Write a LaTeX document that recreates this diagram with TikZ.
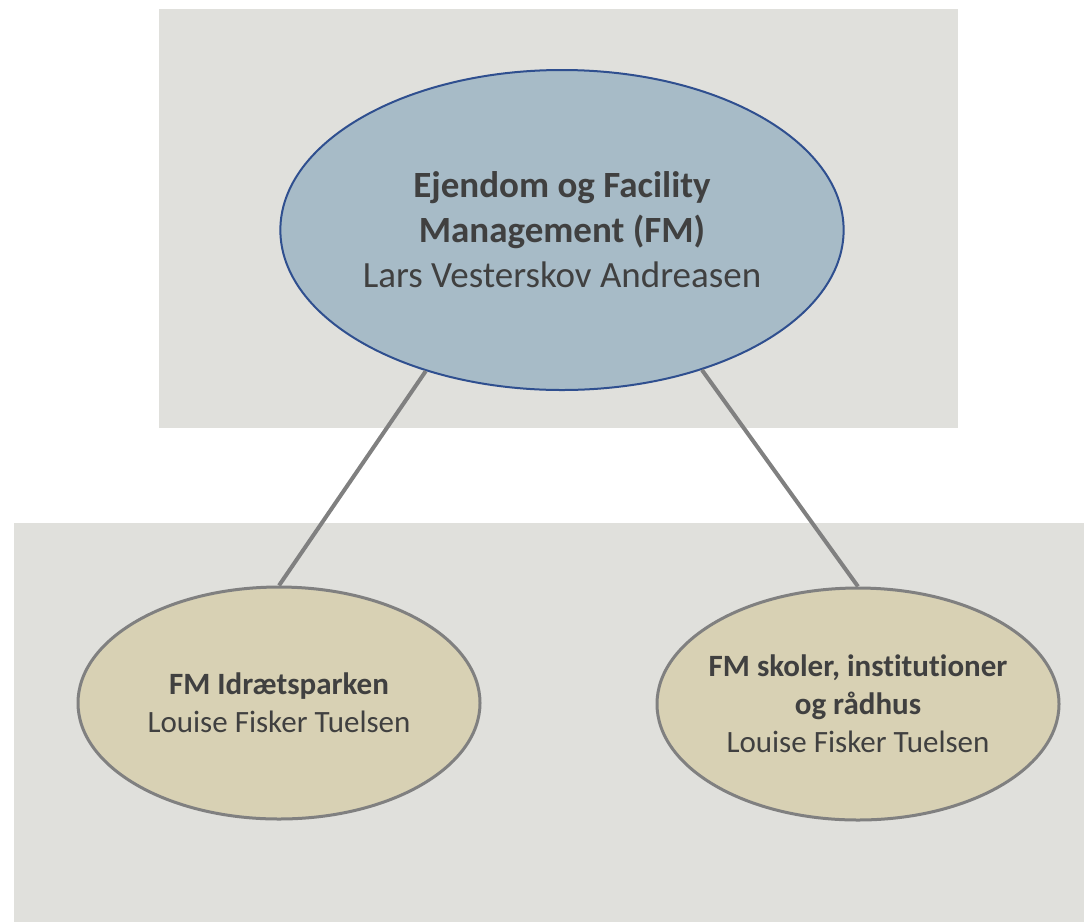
\documentclass[tikz,border=0pt]{standalone}
\usepackage{fontspec}
\setmainfont{Carlito}[Ligatures=NoCommon]
\usetikzlibrary{shapes.geometric}

\definecolor{panelgray}{HTML}{E0E0DC}
\definecolor{headblue}{HTML}{A7BBC7}
\definecolor{headline}{HTML}{2F4F8F}
\definecolor{unittan}{HTML}{D8D1B4}
\definecolor{unitline}{HTML}{808080}
\definecolor{textgray}{HTML}{404040}

\begin{document}
\begin{tikzpicture}[x=1pt,y=-1pt,
  head node/.style={ellipse,draw=headline,line width=2pt,fill=headblue,text=textgray,
    minimum width=560pt,minimum height=320pt,inner sep=0pt,align=center,
    font=\fontsize{37}{45}\selectfont},
  unit node/.style={ellipse,draw=unitline,line width=3pt,fill=unittan,text=textgray,
    minimum width=402pt,minimum height=232pt,inner ysep=0pt,inner xsep=-30pt,align=center,
    font=\fontsize{31}{38}\selectfont},
  link/.style={draw=unitline,line width=4pt}]

  \useasboundingbox (0,0) rectangle (1084,922);
  \fill[panelgray] (159,9) rectangle (958,428);
  \fill[panelgray] (14,523) rectangle (1084,922);

  \node[head node] (FM) at (562,230) {\textbf{Ejendom og Facility}\\ \textbf{Management (FM)}\\ Lars Vesterskov Andreasen};
  \node[unit node] (IP) at (279,703) {\textbf{FM Idrætsparken}\\ Louise Fisker Tuelsen};
  \node[unit node] (SK) at (858,704) {\textbf{FM skoler, institutioner}\\ \textbf{og rådhus}\\ Louise Fisker Tuelsen};

  \path[link]
       (FM.226) -- (IP.north)
       (FM.315) -- (SK.north);
\end{tikzpicture}
\end{document}
